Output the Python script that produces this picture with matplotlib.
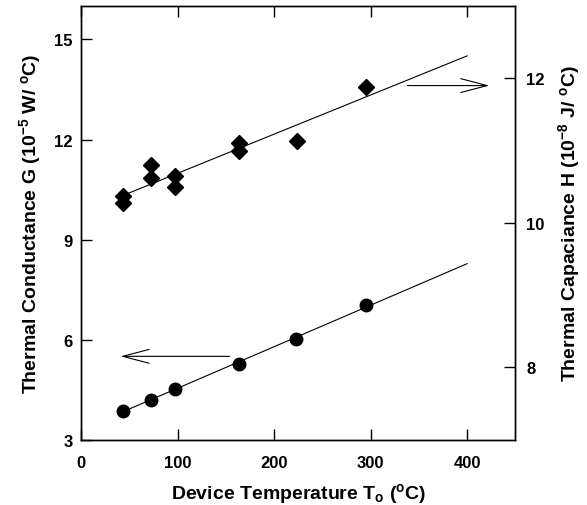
import numpy as np
import matplotlib
matplotlib.use("Agg")
import matplotlib.pyplot as plt

plt.rcParams['font.family'] = ['Liberation Sans', 'DejaVu Sans']
plt.rcParams['font.weight'] = 'bold'
plt.rcParams['axes.labelweight'] = 'bold'
plt.rcParams['mathtext.fontset'] = 'custom'
plt.rcParams['mathtext.rm'] = 'Liberation Sans:bold'
plt.rcParams['mathtext.it'] = 'Liberation Sans:bold'
plt.rcParams['mathtext.bf'] = 'Liberation Sans:bold'

# conductance G (left axis), 10^-5 W/C
temp_g = [43, 72, 97, 164, 223, 295]
cond_g = [3.87, 4.20, 4.52, 5.27, 6.02, 7.04]

# capacitance H (right axis), 10^-8 J/C
temp_h = [43, 43, 72, 72, 97, 97, 164, 164, 224, 295]
cap_h = [10.37, 10.27, 10.80, 10.62, 10.65, 10.49, 11.11, 11.00, 11.14, 11.88]

fit_end = 400

fig = plt.figure(figsize=(5.87, 5.06), dpi=100)
ax = fig.add_axes([0.138, 0.129, 0.740, 0.857])
ax2 = ax.twinx()

# linear fits
pg = np.polyfit(temp_g, cond_g, 1)
xg = np.array([min(temp_g), fit_end])
ax.plot(xg, np.polyval(pg, xg), color='black', lw=0.8)
ax.plot(temp_g, cond_g, 'o', color='black', ms=9)

ph = np.polyfit(temp_h, cap_h, 1)
xh = np.array([min(temp_h), fit_end])
ax2.plot(xh, np.polyval(ph, xh), color='black', lw=0.8)
ax2.plot(temp_h, cap_h, 'D', color='black', ms=8.5)

# arrows pointing to the axis each series belongs to
ax.annotate('', xy=(41, 5.5), xytext=(154, 5.5),
            arrowprops=dict(arrowstyle='->, head_length=1.9, head_width=0.5',
                            lw=0.8, color='black', shrinkA=0, shrinkB=0))
ax2.annotate('', xy=(423, 11.9), xytext=(338, 11.9),
             arrowprops=dict(arrowstyle='->, head_length=1.9, head_width=0.5',
                             lw=0.8, color='black', shrinkA=0, shrinkB=0))

ax.set_xlim(0, 450)
ax.set_ylim(3, 16)
ax2.set_ylim(7, 13)
ax.set_xticks([0, 100, 200, 300, 400])
ax.set_yticks([3, 6, 9, 12, 15])
ax2.set_yticks([8, 10, 12])

ax.tick_params(axis='x', direction='in', length=8, width=1, top=True, labelsize=12, pad=11)
ax.tick_params(axis='y', direction='in', length=8, width=1, labelsize=12, pad=6)
ax2.tick_params(axis='y', direction='in', length=8, width=1, labelsize=12, pad=8)

for a in (ax, ax2):
    for s in a.spines.values():
        s.set_linewidth(1.0)

ax.set_xlabel('Device Temperature T$_\\mathrm{o}$ ($^\\mathrm{o}$C)', fontsize=14, labelpad=8)
ax.set_ylabel('Thermal Conductance G (10$^{-5}$ W/ $^\\mathrm{o}$C)', fontsize=14, labelpad=8)
ax2.set_ylabel('Thermal Capaciance H (10$^{-8}$ J/ $^\\mathrm{o}$C)', fontsize=14, labelpad=8)

fig.savefig('out.png', dpi=100)
